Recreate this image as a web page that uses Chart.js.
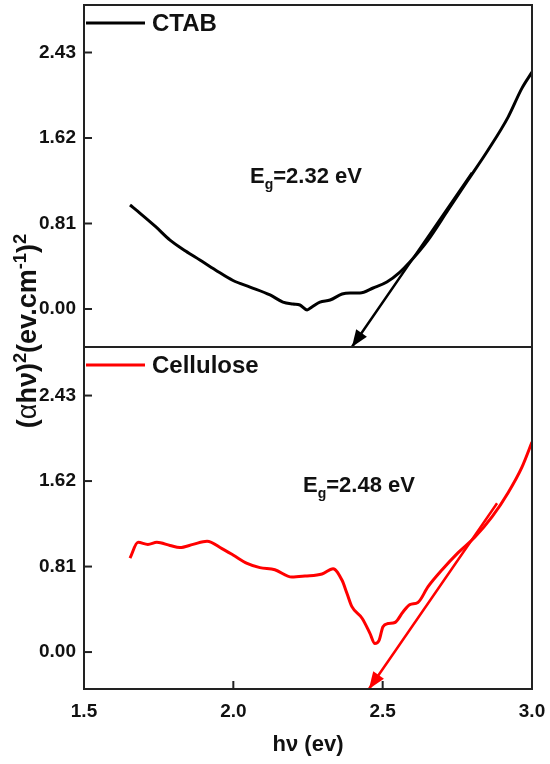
<!DOCTYPE html>
<html><head><meta charset="utf-8">
<script src="https://cdn.jsdelivr.net/npm/chart.js@4.4.1/dist/chart.umd.min.js"></script>
<style>
html,body{margin:0;padding:0;background:#fff;width:550px;height:764px;overflow:hidden;}
#wrap{position:relative;width:550px;height:764px;}
#p1{position:absolute;left:0;top:0;width:550px;height:350px;}
#p2{position:absolute;left:0;top:340px;width:550px;height:424px;}
#ytitle{position:absolute;left:-123px;top:316px;width:300px;height:30px;line-height:30px;text-align:center;
 transform:rotate(-90deg);transform-origin:50% 50%;font:bold 27px 'Liberation Sans',Arial,sans-serif;color:#111;white-space:nowrap;}
#ytitle sup{font-size:0.68em;vertical-align:baseline;position:relative;top:-0.55em;}
#ytitle .n{font-weight:normal;}
</style></head>
<body><div id="wrap">
<div id="p1"><canvas id="c1"></canvas></div>
<div id="p2"><canvas id="c2"></canvas></div>
<div id="ytitle">(<span class="n">α</span>hν)<sup>2</sup>(ev.cm<sup>-1</sup>)<sup>2</sup></div>
</div>
<script>
const FONT = "'Liberation Sans', Arial, sans-serif";

// ---- data ----
const xTicks = [1.5, 2.0, 2.5, 3.0];
const yTicks = [0.00, 0.81, 1.62, 2.43];

const ctabLabel = "CTAB";
const ctabX = [1.654,1.687,1.740,1.788,1.840,1.888,1.940,1.999,2.056,2.123,2.166,2.200,2.223,2.247,2.263,2.290,2.324,2.364,2.391,2.424,2.468,2.514,2.558,2.591,2.652,2.719,2.786,2.853,2.920,2.966,3.000];
const ctabY = [0.985,0.909,0.780,0.653,0.550,0.464,0.370,0.270,0.208,0.133,0.066,0.047,0.038,-0.009,0.019,0.066,0.085,0.142,0.152,0.152,0.199,0.256,0.350,0.445,0.653,0.938,1.222,1.506,1.818,2.090,2.244];
const ctabTanX = [2.799, 2.397];
const ctabTanY = [1.29, -0.36];
const ctabEg = "2.32 eV";

const cellLabel = "Cellulose";
const cellX = [1.654,1.681,1.714,1.744,1.788,1.821,1.865,1.912,1.962,1.999,2.046,2.089,2.139,2.196,2.240,2.297,2.334,2.364,2.380,2.397,2.431,2.457,2.474,2.488,2.501,2.518,2.541,2.568,2.591,2.618,2.652,2.699,2.752,2.809,2.866,2.920,2.966,3.000];
const cellY = [0.89,1.04,1.02,1.04,1.01,0.99,1.02,1.05,0.98,0.92,0.84,0.80,0.78,0.71,0.72,0.74,0.79,0.68,0.56,0.43,0.32,0.18,0.08,0.11,0.24,0.27,0.28,0.38,0.45,0.47,0.62,0.78,0.94,1.09,1.28,1.51,1.75,1.99];
const cellTanX = [2.883, 2.454];
const cellTanY = [1.41, -0.35];
const cellEg = "2.48 eV";

const pts = (xs, ys) => xs.map((x, i) => ({x, y: ys[i]}));

// ---- plugins ----
const framePlugin = {
  id: 'frame',
  afterDraw(chart, args, opts) {
    const {ctx, chartArea: a} = chart;
    ctx.save();
    ctx.strokeStyle = '#222';
    ctx.lineWidth = 2;
    ctx.strokeRect(a.left, a.top, a.right - a.left, a.bottom - a.top);
    const ys = chart.scales.y;
    ys.ticks.forEach(t => {
      const p = ys.getPixelForValue(t.value);
      ctx.beginPath(); ctx.moveTo(a.left, p); ctx.lineTo(a.left + 8, p); ctx.stroke();
    });
    if (opts.xTicks) {
      const xs = chart.scales.x;
      xs.ticks.forEach(t => {
        if (t.value <= xs.min || t.value >= xs.max) return;
        const p = xs.getPixelForValue(t.value);
        ctx.beginPath(); ctx.moveTo(p, a.bottom); ctx.lineTo(p, a.bottom - 8); ctx.stroke();
      });
    }
    ctx.restore();
  },
  afterDatasetsDraw(chart, args, opts) {
    const {ctx, chartArea: a} = chart;
    ctx.save();
    chart.data.datasets.forEach((ds, i) => {
      if (!ds.arrow) return;
      const m = chart.getDatasetMeta(i).data;
      const p1 = m[m.length - 2], p2 = m[m.length - 1];
      const ang = Math.atan2(p2.y - p1.y, p2.x - p1.x);
      const L = 17, W = 6.5;
      ctx.fillStyle = ds.borderColor;
      ctx.beginPath();
      ctx.moveTo(p2.x, p2.y);
      ctx.lineTo(p2.x - L * Math.cos(ang) + W * Math.sin(ang), p2.y - L * Math.sin(ang) - W * Math.cos(ang));
      ctx.lineTo(p2.x - L * Math.cos(ang) - W * Math.sin(ang), p2.y - L * Math.sin(ang) + W * Math.cos(ang));
      ctx.closePath();
      ctx.fill();
    });
    const ds0 = chart.data.datasets[0];
    const ly = a.top + 18;
    ctx.strokeStyle = ds0.borderColor;
    ctx.lineWidth = 3;
    ctx.beginPath(); ctx.moveTo(a.left + 2, ly); ctx.lineTo(a.left + 61, ly); ctx.stroke();
    ctx.fillStyle = '#111';
    ctx.font = 'bold 24px ' + FONT;
    ctx.textBaseline = 'middle';
    ctx.textAlign = 'left';
    ctx.fillText(ds0.label, a.left + 68, ly + 1);
    if (opts.eg) {
      let x = opts.eg.x; const y = opts.eg.y;
      ctx.textBaseline = 'alphabetic';
      ctx.font = 'bold 22px ' + FONT;
      ctx.fillText('E', x, y); x += ctx.measureText('E').width;
      ctx.font = 'bold 14px ' + FONT;
      ctx.fillText('g', x, y + 6); x += ctx.measureText('g').width;
      ctx.font = 'bold 22px ' + FONT;
      ctx.fillText('=' + opts.eg.text, x, y);
    }
    ctx.restore();
  }
};

function yScale(min, max) {
  return {
    type: 'linear', min, max,
    afterBuildTicks: s => { s.ticks = yTicks.map(v => ({value: v})); },
    afterFit: s => { s.width = 84; s.paddingTop = 0; s.paddingBottom = 0; s.paddingLeft = 0; s.paddingRight = 0; },
    grid: {display: false, drawTicks: false},
    border: {display: false},
    ticks: {padding: 8, color: '#111', font: {family: FONT, size: 19, weight: 'bold'},
            callback: v => Number(v).toFixed(2)}
  };
}

const common = {
  responsive: true, maintainAspectRatio: false, animation: false,
  elements: {point: {radius: 0}, line: {cubicInterpolationMode: 'monotone'}},
  plugins: {legend: {display: false}, tooltip: {enabled: false}}
};

new Chart(document.getElementById('c1'), {
  type: 'scatter',
  data: {datasets: [
    {label: ctabLabel, data: pts(ctabX, ctabY), showLine: true, borderColor: '#000', borderWidth: 3},
    {label: 'tangent', data: pts(ctabTanX, ctabTanY), showLine: true, borderColor: '#000', borderWidth: 2.5, arrow: true, clip: false}
  ]},
  options: Object.assign({}, common, {
    layout: {padding: {top: 5, right: 18, bottom: 3, left: 0}},
    scales: {
      x: {type: 'linear', min: 1.5, max: 3.0, display: false},
      y: yScale(-0.36, 2.88)
    },
    plugins: Object.assign({}, common.plugins, {frame: {xTicks: false, eg: {x: 250, y: 183, text: ctabEg}}})
  }),
  plugins: [framePlugin]
});

new Chart(document.getElementById('c2'), {
  type: 'scatter',
  data: {datasets: [
    {label: cellLabel, data: pts(cellX, cellY), showLine: true, borderColor: '#ff0000', borderWidth: 3},
    {label: 'tangent', data: pts(cellTanX, cellTanY), showLine: true, borderColor: '#ff0000', borderWidth: 2.5, arrow: true, clip: false}
  ]},
  options: Object.assign({}, common, {
    layout: {padding: {top: 7, right: 18, bottom: 0, left: 0}},
    scales: {
      x: {type: 'linear', min: 1.5, max: 3.0,
          afterBuildTicks: s => { s.ticks = xTicks.map(v => ({value: v})); },
          afterFit: s => { s.height = 75; s.paddingTop = 0; s.paddingBottom = 0; s.paddingLeft = 0; s.paddingRight = 0; },
          grid: {display: false, drawTicks: false},
          border: {display: false},
          ticks: {padding: 11, color: '#111', maxRotation: 0, font: {family: FONT, size: 19, weight: 'bold'},
                  callback: v => Number(v).toFixed(1)},
          title: {display: true, text: 'hν (ev)', color: '#111', font: {family: FONT, size: 22, weight: 'bold'},
                  padding: {top: 0, bottom: 6}}
      },
      y: yScale(-0.35, 2.89)
    },
    plugins: Object.assign({}, common.plugins, {frame: {xTicks: true, eg: {x: 303, y: 152, text: cellEg}}})
  }),
  plugins: [framePlugin]
});
</script>
</body></html>
